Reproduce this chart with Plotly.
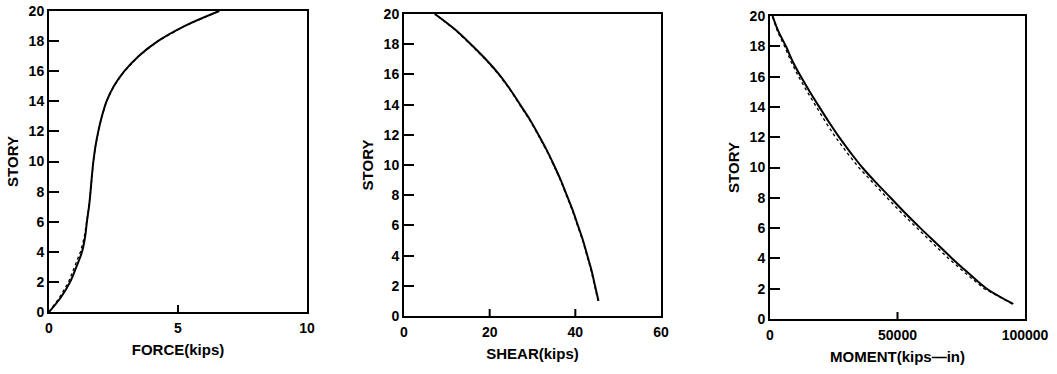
import plotly.graph_objects as go

# ---- data ----
force_story = [0, 1, 2, 3, 4, 5, 6, 7, 8, 9, 10, 11, 12, 13, 14, 15, 16, 17, 18, 19, 20]
force_solid = [0, 0.47, 0.82, 1.06, 1.28, 1.40, 1.47, 1.55, 1.61, 1.66, 1.72, 1.80, 1.91, 2.05, 2.23, 2.51, 2.92, 3.47, 4.22, 5.25, 6.6]
force_dot = [0, 0.42, 0.76, 1.00, 1.22, 1.37, 1.46, 1.55, 1.61, 1.66, 1.72, 1.80, 1.91, 2.05, 2.23, 2.51, 2.92, 3.47, 4.22, 5.25, 6.6]

shear_story = [1, 2, 3, 4, 5, 6, 7, 8, 9, 10, 11, 12, 13, 14, 15, 16, 17, 18, 19, 20]
shear_solid = [45.4, 44.6, 43.8, 42.8, 41.8, 40.6, 39.4, 38.0, 36.6, 35.0, 33.3, 31.4, 29.4, 27.1, 24.8, 22.2, 19.1, 15.6, 11.8, 7.2]
shear_dot = [45.3, 44.5, 43.7, 42.7, 41.7, 40.5, 39.3, 37.9, 36.5, 34.9, 33.2, 31.3, 29.3, 27.0, 24.7, 22.1, 19.0, 15.5, 11.7, 7.2]

moment_story = [1, 2, 3, 4, 5, 6, 7, 8, 9, 10, 11, 12, 13, 14, 15, 16, 17, 18, 19, 20]
moment_solid = [95400, 85000, 78000, 71400, 65200, 59000, 53000, 47300, 41600, 36200, 31500, 27100, 23100, 19300, 15600, 12100, 8900, 6250, 3250, 1000]
moment_dot = [95000, 84000, 76800, 70000, 63800, 57600, 51600, 45900, 40200, 34800, 30100, 25700, 21800, 18100, 14600, 11200, 8200, 5700, 2900, 900]

force_ticks = [0, 5, 10]
shear_ticks = [0, 20, 40, 60]
moment_ticks = [0, 50000, 100000]
story_ticks = [0, 2, 4, 6, 8, 10, 12, 14, 16, 18, 20]

W, H = 1057, 374
FONT = "Liberation Sans"

fig = go.Figure()

panels = [
    dict(xs=force_solid, xd=force_dot, ys=force_story, xa="x", ya="y",
         xdom=[49 / W, 307 / W], ydom=[1 - 312 / H, 1 - 11 / H],
         xr=[0, 10], xt=force_ticks, xin=[5], title="FORCE(kips)"),
    dict(xs=shear_solid, xd=shear_dot, ys=shear_story, xa="x2", ya="y2",
         xdom=[404 / W, 661 / W], ydom=[1 - 316 / H, 1 - 14 / H],
         xr=[0, 60], xt=shear_ticks, xin=[20, 40], title="SHEAR(kips)"),
    dict(xs=moment_solid, xd=moment_dot, ys=moment_story, xa="x3", ya="y3",
         xdom=[770 / W, 1025 / W], ydom=[1 - 319 / H, 1 - 16 / H],
         xr=[0, 100000], xt=moment_ticks, xin=[50000], title="MOMENT(kips\u2014in)"),
]

layout = dict(
    width=W, height=H,
    margin=dict(l=0, r=0, t=0, b=0),
    paper_bgcolor="white", plot_bgcolor="white",
    showlegend=False,
    font=dict(family=FONT, color="black"),
)

TICKFONT = dict(family=FONT, size=14, color="black", weight="bold")
TITLEFONT = dict(family=FONT, size=15, color="black", weight="bold")

shapes = []
for i, p in enumerate(panels):
    sfx = "" if i == 0 else str(i + 1)
    fig.add_trace(go.Scatter(x=p["xd"], y=p["ys"], mode="lines",
                             line=dict(color="black", width=1.3, dash="dot"),
                             xaxis=p["xa"], yaxis=p["ya"]))
    fig.add_trace(go.Scatter(x=p["xs"], y=p["ys"], mode="lines",
                             line=dict(color="black", width=2, shape="spline", smoothing=1.0),
                             xaxis=p["xa"], yaxis=p["ya"]))
    layout["xaxis" + sfx] = dict(
        domain=p["xdom"], range=p["xr"], anchor=p["ya"],
        tickvals=p["xt"], ticktext=[str(v) for v in p["xt"]],
        ticks="", showgrid=False, zeroline=False,
        showline=True, mirror=True, linecolor="black", linewidth=2,
        tickfont=TICKFONT, ticklabelstandoff=2,
        title=dict(text=p["title"], standoff=10, font=TITLEFONT),
        automargin=False, fixedrange=True,
    )
    layout["yaxis" + sfx] = dict(
        domain=p["ydom"], range=[0, 20], anchor=p["xa"],
        tickmode="array", tickvals=story_ticks,
        ticks="inside", ticklen=10, tickwidth=2, tickcolor="black",
        showgrid=False, zeroline=False,
        showline=True, mirror=True, linecolor="black", linewidth=2,
        tickfont=TICKFONT,
        title=dict(text="STORY", standoff=6, font=TITLEFONT),
        automargin=False, fixedrange=True,
    )
    for v in p["xin"]:
        shapes.append(dict(type="line", xref=p["xa"], yref="paper",
                           x0=v, x1=v, y0=p["ydom"][0], y1=p["ydom"][0] + 7 / H,
                           line=dict(color="black", width=2), layer="above"))

layout["shapes"] = shapes
fig.update_layout(**layout)

fig.write_html("out.html")
